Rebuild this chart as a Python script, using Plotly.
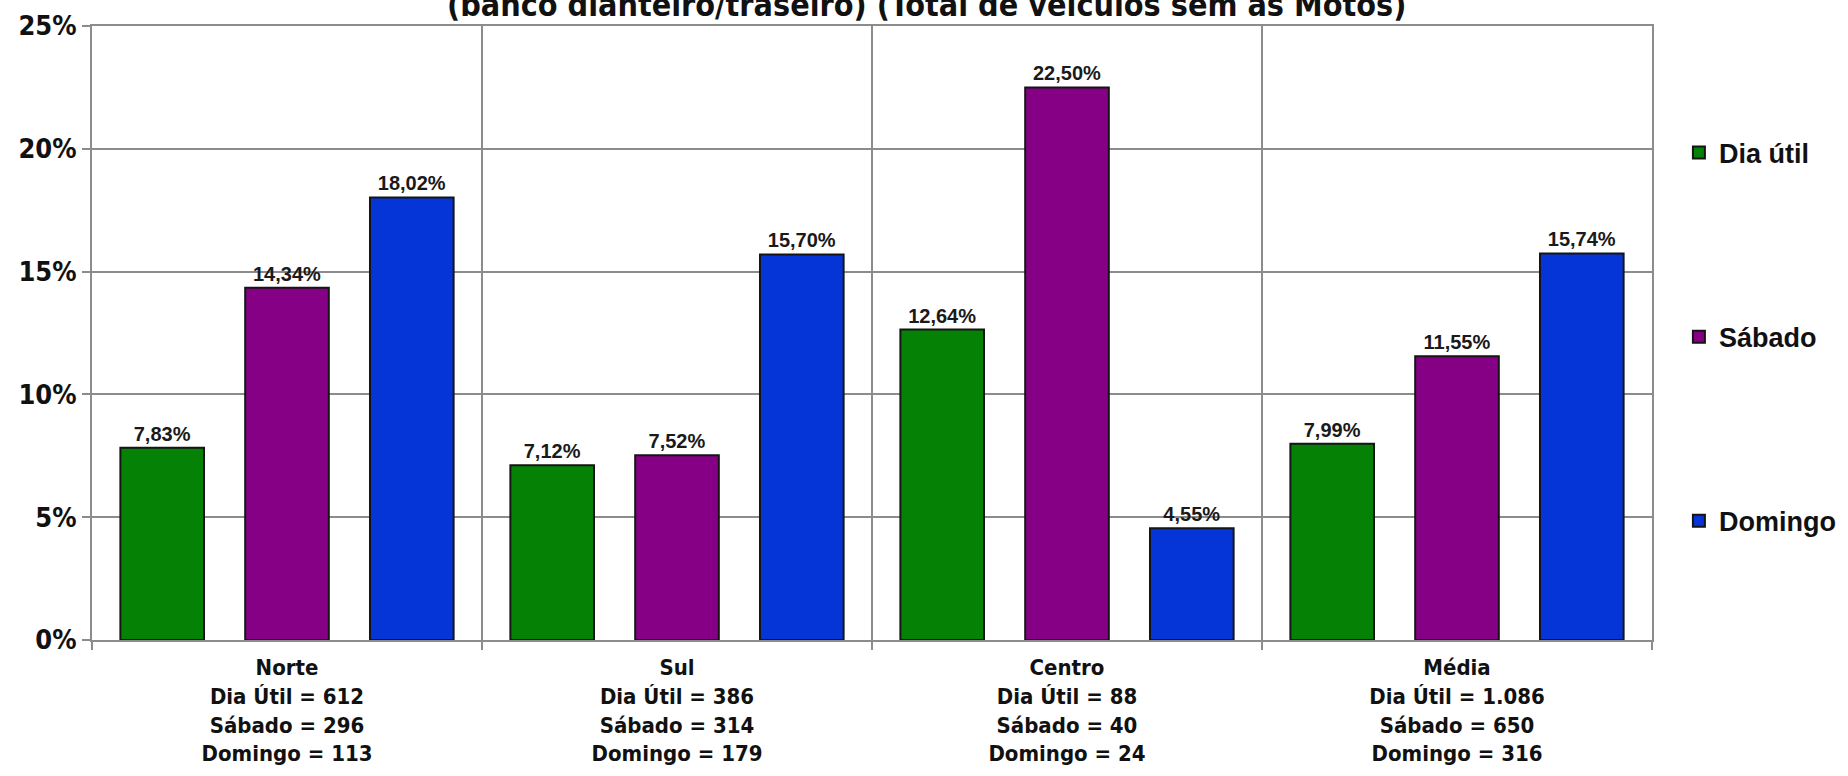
import plotly.graph_objects as go

# categorias (regiões) e totais de veículos
regioes = ["Norte", "Sul", "Centro", "Média"]
total_dia_util = ["612", "386", "88", "1.086"]
total_sabado = ["296", "314", "40", "650"]
total_domingo = ["113", "179", "24", "316"]

# percentuais por série
dia_util = [7.83, 7.12, 12.64, 7.99]
sabado = [14.34, 7.52, 22.50, 11.55]
domingo = [18.02, 15.70, 4.55, 15.74]

y_ticks = [0, 5, 10, 15, 20, 25]
y_ticktext = ["0%", "5%", "10%", "15%", "20%", "25%"]

titulo = "(banco dianteiro/traseiro) (Total de veículos sem as Motos)"

NARROW = "DejaVu Sans Condensed"
ARIAL = "Liberation Sans"

rotulos = [
    f"<b>{r}<br>Dia Útil = {a}<br>Sábado = {b}<br>Domingo = {c}</b>"
    for r, a, b, c in zip(regioes, total_dia_util, total_sabado, total_domingo)
]


def fmt(v):
    return f"<b>{v:.2f}%</b>".replace(".", ",")


series = [
    ("Dia útil", dia_util, "#058105"),
    ("Sábado", sabado, "#860086"),
    ("Domingo", domingo, "#0535d6"),
]

fig = go.Figure()
for i, (nome, vals, cor) in enumerate(series):
    fig.add_trace(go.Bar(
        x=rotulos, y=vals, name=f"<b>{nome}</b>",
        marker=dict(color=cor, line=dict(color="#151515", width=2)),
        text=[fmt(v) for v in vals],
        textposition="outside",
        textfont=dict(family=ARIAL, size=20, color="#1a1a1a"),
        cliponaxis=False,
        legendgroup=f"g{i}",
    ))

# título cortado no topo, como no original
fig.add_annotation(
    text=f"<b>{titulo}</b>", xref="paper", yref="paper",
    x=0.535, y=1.0, xanchor="center", yanchor="bottom", showarrow=False,
    font=dict(family=NARROW, size=32, color="#111111"),
)

fig.update_layout(
    width=1848, height=776,
    margin=dict(l=92, r=196, t=26, b=136),
    paper_bgcolor="white", plot_bgcolor="white",
    barmode="group", bargap=0.04, bargroupgap=0.33,
    showlegend=True,
    legend=dict(
        xref="container", yref="paper",
        x=0.9085, y=0.833, xanchor="left", yanchor="top",
        traceorder="grouped", tracegroupgap=146,
        font=dict(family=ARIAL, size=27, color="#111111"),
        itemwidth=30,
    ),
    xaxis=dict(
        automargin=False,
        tickson="boundaries", showgrid=True, gridcolor="#8c8c8c", gridwidth=2,
        showline=True, linecolor="#8c8c8c", linewidth=2, mirror=True,
        ticks="outside", ticklen=8, tickcolor="#8c8c8c", tickwidth=2,
        ticklabelstandoff=7,
        tickfont=dict(family=NARROW, size=22, color="#111111"),
    ),
    yaxis=dict(
        automargin=False,
        range=[0, 25], tickvals=y_ticks,
        ticktext=[f"<b>{t}</b>" for t in y_ticktext],
        showgrid=True, gridcolor="#8c8c8c", gridwidth=2,
        showline=True, linecolor="#8c8c8c", linewidth=2, mirror=True,
        ticks="outside", ticklen=8, tickcolor="#8c8c8c", tickwidth=2,
        tickfont=dict(family=NARROW, size=27, color="#111111"),
        zeroline=False,
    ),
)

fig.write_html(
    "out.html",
    config={"displayModeBar": False},
    post_script="document.body.style.margin='0';",
)
